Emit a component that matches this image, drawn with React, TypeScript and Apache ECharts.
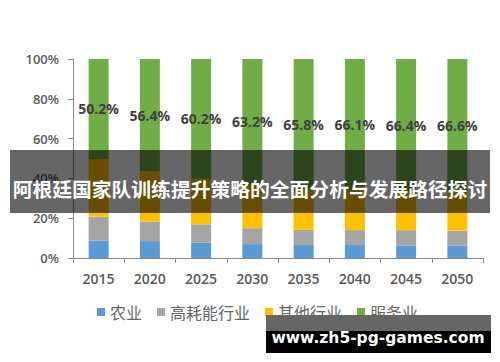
import React, { useEffect, useRef } from "react";
import * as echarts from "echarts";

const years = ["2015", "2020", "2025", "2030", "2035", "2040", "2045", "2050"];
const agriculture = [8.7, 8.5, 7.7, 7.0, 6.5, 6.5, 6.3, 6.3];
const highEnergy = [12.1, 9.8, 9.2, 8.0, 7.6, 7.5, 7.7, 7.4];
const otherIndustry = [29.0, 25.3, 22.9, 21.8, 20.1, 19.9, 19.6, 19.7];
const services = [50.2, 56.4, 60.2, 63.2, 65.8, 66.1, 66.4, 66.6];
const seriesNames = ["农业", "高耗能行业", "其他行业", "服务业"];
const yTicks = [0, 20, 40, 60, 80, 100];

const title = "阿根廷国家队训练提升策略的全面分析与发展路径探讨";
const watermark = "www.zh5-pg-games.com";

export default function App() {
  const ref = useRef<HTMLDivElement>(null);
  useEffect(() => {
    document.body.style.margin = "0";
    if (!ref.current) return;
    const chart = echarts.init(ref.current, undefined, { renderer: "svg" });
    const numFont = "'Open Sans', 'Liberation Sans', sans-serif";
    const cjkFont = "'Noto Sans CJK SC', sans-serif";
    const colors = ["#5B9BD5", "#A5A5A5", "#FFC000", "#70AD47"];
    const datas = [agriculture, highEnergy, otherIndustry, services];
    chart.setOption({
      animation: false,
      backgroundColor: "#ffffff",
      grid: { left: 73, right: 17, top: 59, bottom: 104, containLabel: false },
      legend: {
        left: 92,
        top: 299,
        itemWidth: 8,
        itemHeight: 8,
        itemGap: 15,
        icon: "rect",
        data: seriesNames,
        textStyle: { fontSize: 16, color: "#666666", fontFamily: cjkFont },
      },
      xAxis: {
        type: "category",
        data: years,
        axisLine: { lineStyle: { color: "#888888" } },
        axisTick: { show: true, length: 5, lineStyle: { color: "#888888" } },
        axisLabel: {
          fontSize: 14,
          color: "#595959",
          fontFamily: numFont,
          fontWeight: 600,
          margin: 13,
        },
      },
      yAxis: {
        type: "value",
        min: yTicks[0],
        max: yTicks[yTicks.length - 1],
        interval: 20,
        axisLine: { show: true, lineStyle: { color: "#888888" } },
        axisTick: { show: true, length: 5, lineStyle: { color: "#888888" } },
        splitLine: { show: false },
        axisLabel: {
          formatter: "{value}%",
          fontSize: 13,
          color: "#595959",
          fontFamily: numFont,
          fontWeight: 600,
          margin: 14,
        },
      },
      series: seriesNames.map((name, i) => ({
        name,
        type: "bar",
        stack: "total",
        barWidth: 20,
        data: datas[i],
        itemStyle: { color: colors[i] },
        label:
          i === 3
            ? {
                show: true,
                position: "inside",
                formatter: "{c}%",
                fontSize: 14,
                fontWeight: "bold",
                color: "#404040",
                fontFamily: numFont,
              }
            : { show: false },
      })),
      graphic: [
        {
          type: "rect",
          z: 100,
          shape: { x: 10, y: 150, width: 480, height: 63 },
          style: { fill: "rgba(0,0,0,0.6)" },
        },
        {
          type: "text",
          z: 101,
          x: 250,
          y: 188,
          style: {
            text: title,
            fill: "#ffffff",
            fontSize: 19.8,
            fontWeight: "bold",
            fontFamily: cjkFont,
            align: "center",
            verticalAlign: "middle",
          },
        },
        {
          type: "rect",
          z: 100,
          shape: { x: 266, y: 315, width: 225, height: 16 },
          style: { fill: "#666666" },
        },
        {
          type: "rect",
          z: 100,
          shape: { x: 266, y: 331, width: 225, height: 22 },
          style: { fill: "#000000" },
        },
        {
          type: "text",
          z: 101,
          x: 378,
          y: 338,
          style: {
            text: watermark,
            fill: "#ffffff",
            fontSize: 15.5,
            fontWeight: "bold",
            fontFamily: "'DejaVu Sans', sans-serif",
            align: "center",
            verticalAlign: "middle",
          },
        },
      ],
    });
    return () => chart.dispose();
  }, []);
  return <div ref={ref} style={{ width: 500, height: 362 }} />;
}
